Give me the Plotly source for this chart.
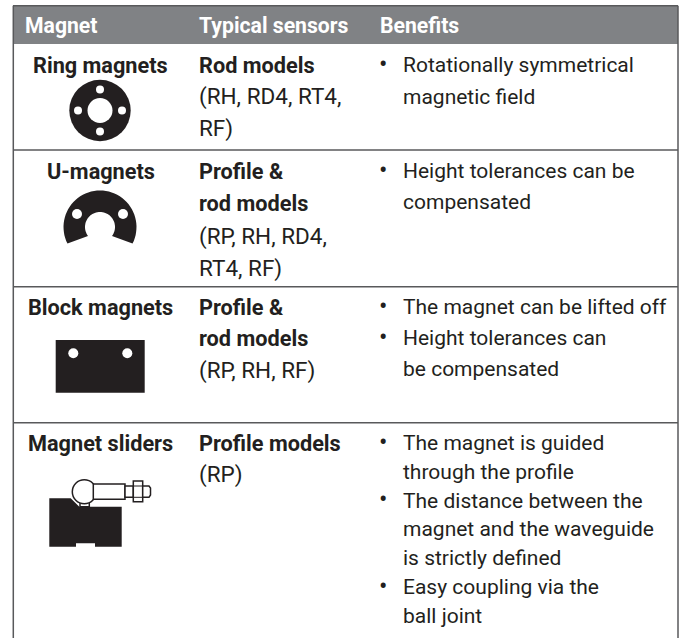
import math
import plotly.graph_objects as go

W, H = 684, 638
FONT = "Roboto"
BOLD_SZ, BODY_SZ, NOTE_SZ = 21.7, 21, 22.5
INK = "#231f20"

headers = ["Magnet", "Typical sensors", "Benefits"]
magnets = ["Ring magnets", "U-magnets", "Block magnets", "Magnet sliders"]
sensor_titles = [["Rod models"], ["Profile &", "rod models"], ["Profile &", "rod models"], ["Profile models"]]
sensor_notes = [["(RH, RD4, RT4,", "RF)"], ["(RP, RH, RD4,", "RT4, RF)"], ["(RP, RH, RF)"], ["(RP)"]]
benefits = [
    [["Rotationally symmetrical", "magnetic field"]],
    [["Height tolerances can be", "compensated"]],
    [["The magnet can be lifted off"], ["Height tolerances can", "be compensated"]],
    [["The magnet is guided", "through the profile"],
     ["The distance between the", "magnet and the waveguide", "is strictly defined"],
     ["Easy coupling via the", "ball joint"]],
]

row_tops = [65, 171, 307, 443]
sensor_leads = [31.5, 32.5, 31.5, 31.5]
benefit_leads = [32, 31, 31, 28.8]
anns, shapes = [], []

def txt(x, y, s, bold=False, color=INK, anchor="left", size=BODY_SZ):
    anns.append(dict(x=x, y=y, text=f"<b>{s}</b>" if bold else s, showarrow=False,
                     xref="x", yref="y", xanchor=anchor, yanchor="middle",
                     font=dict(family=FONT, size=size, color=color)))

def line(x0, y0, x1, y1, c="#58595b", w=1.5):
    shapes.append(dict(type="line", x0=x0, y0=y0, x1=x1, y1=y1, xref="x", yref="y", line=dict(color=c, width=w)))

def poly(points, fill=INK, lc=None, lw=0):
    d = "M" + " L".join(f"{x:.1f},{y:.1f}" for x, y in points) + " Z"
    shapes.append(dict(type="path", path=d, xref="x", yref="y", fillcolor=fill, line=dict(color=lc or fill, width=lw)))

def circle(cx, cy, r, fill="white", lc=None, lw=0):
    shapes.append(dict(type="circle", x0=cx-r, x1=cx+r, y0=cy-r, y1=cy+r, xref="x", yref="y",
                       fillcolor=fill, line=dict(color=lc or fill, width=lw)))

# header band and frame
shapes.append(dict(type="rect", x0=13, x1=678, y0=6, y1=44, xref="x", yref="y", fillcolor="#808285", line=dict(width=0)))
line(13, 5.7, 678, 5.7); line(13.3, 5.7, 13.3, H); line(678, 5.7, 678, H)
for y in (150, 286.7, 422.7):
    line(13, y, 678, y)

for x, h in zip((23, 196.5, 378), headers):
    txt(x, 25, h, bold=True, color="white", size=BOLD_SZ - 0.5)

for i, name in enumerate(magnets):
    top = row_tops[i]
    txt(100.5, top, name, bold=True, anchor="center", size=BOLD_SZ)
    y = top
    for t in sensor_titles[i]:
        txt(196.5, y, t, bold=True, size=BOLD_SZ); y += sensor_leads[i]
    for t in sensor_notes[i]:
        txt(196.5, y, t, size=NOTE_SZ); y += sensor_leads[i]
    y = top
    for group in benefits[i]:
        txt(383.3, y - 1, "•", anchor="center", size=25)
        for t in group:
            txt(400.7, y, t); y += benefit_leads[i]

# Ring magnet
circle(100, 110.5, 30.7, INK)
circle(100, 110.5, 12.5)
for dx, dy in ((0, -21), (0, 21), (-22, 0), (22, 0)):
    circle(100+dx, 110.5+dy, 4)

# U-magnet
def arc(cx, cy, r, a0, a1, n=50):
    return [(cx + r*math.cos(math.radians(a0+(a1-a0)*k/n)), cy + r*math.sin(math.radians(a0+(a1-a0)*k/n))) for k in range(n+1)]
poly(arc(100, 227, 36.5, 153, 387) + arc(100, 227, 15, 37, -217), INK)
circle(77, 214, 5); circle(123, 214, 5)

# Block magnet
poly([(55.7, 340), (144.7, 340), (144.7, 392.7), (55.7, 392.7)], INK)
circle(73.3, 353.3, 5); circle(127.3, 353.3, 5)

# Slider
poly([(49.3, 498.3), (70.7, 498.3), (79.3, 506.7), (121.7, 506.7), (121.7, 546.7), (95, 546.7), (95, 543.3),
      (76, 543.3), (76, 546.7), (49.3, 546.7)], INK)
shapes.append(dict(type="rect", x0=80, x1=89.3, y0=500, y1=506.7, xref="x", yref="y", fillcolor="white", line=dict(color=INK, width=1.5)))
circle(84.3, 491.7, 12, "white", INK, 1.5)
poly([(93.3, 484), (125, 484), (125, 499.3), (93.3, 499.3)], "white", INK, 1.5)
poly([(125, 486), (133.3, 486), (133.3, 497.3), (125, 497.3)], "white", INK, 1.5)
poly([(133.3, 481), (142.7, 481), (142.7, 501.7), (133.3, 501.7)], "white", INK, 1.5)
line(133.3, 486, 142.7, 486, INK, 1); line(133.3, 497.3, 142.7, 497.3, INK, 1)
poly([(142.7, 486), (149, 486), (150.5, 488), (150.5, 495), (149, 497.3), (142.7, 497.3)], "white", INK, 1.5)

fig = go.Figure()
fig.update_layout(width=W, height=H, margin=dict(l=0, r=0, t=0, b=0), paper_bgcolor="white", plot_bgcolor="white",
                  xaxis=dict(range=[0, W], visible=False, fixedrange=True),
                  yaxis=dict(range=[H, 0], visible=False, fixedrange=True),
                  annotations=anns, shapes=shapes, showlegend=False)
fig.write_html("out.html", config={"displayModeBar": False},
               post_script="document.body.style.margin='0';document.body.style.overflow='hidden';")
